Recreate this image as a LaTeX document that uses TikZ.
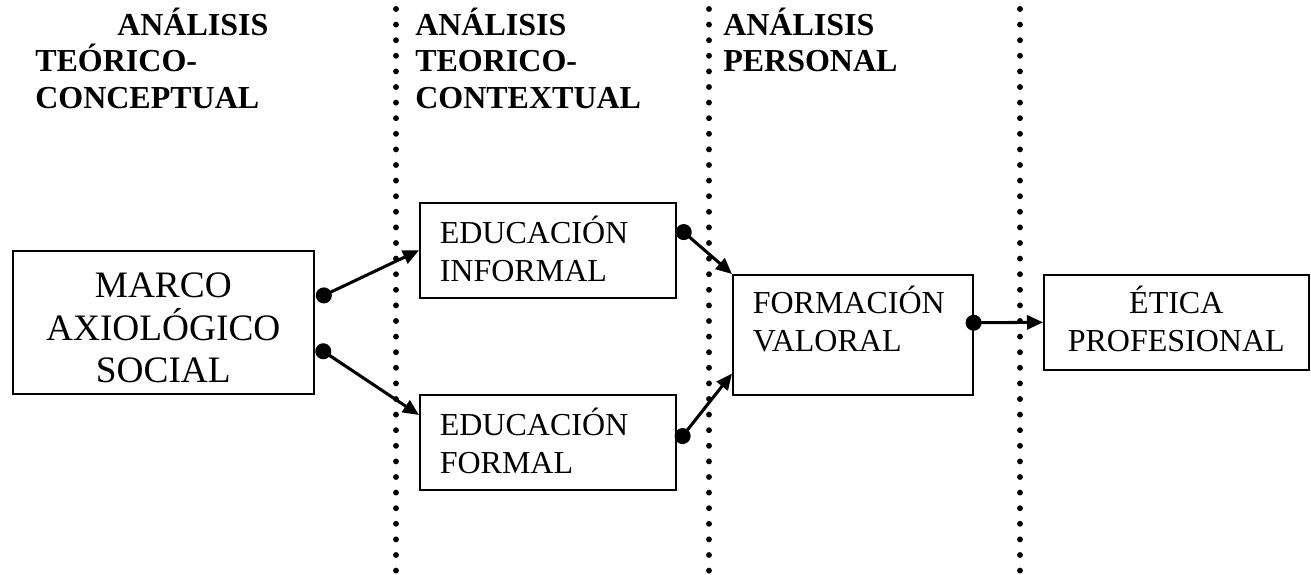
\documentclass[tikz,border=0pt]{standalone}
\usepackage{fontspec}
\setmainfont{Liberation Serif}
\usetikzlibrary{arrows.meta}
\newcommand\boxtxt[5]{\parbox[b][#2][t]{#1}{#4\rule{0pt}{#3}#5\par}}
\tikzset{
  box/.style={draw, line width=1.2pt, inner sep=0pt, anchor=north west},
  conn/.style={line width=2.3pt, {Circle[length=12pt]}-{Triangle[length=12pt,width=10.5pt]}},
  sepline/.style={line width=4.4pt, line cap=round, dash pattern=on 0pt off 11.7pt},
  head/.style={anchor=base west, inner sep=0pt, font=\bfseries\fontsize{24}{27.5}\selectfont}
}
\begin{document}
\begin{tikzpicture}[x=0.75pt,y=-0.75pt]
\useasboundingbox (0,0) rectangle (1311,575);
% column separators
\draw[sepline] (396,9) -- (396,572);
\draw[sepline] (709,9) -- (709,572);
\draw[sepline] (1020,9) -- (1020,572);
% headers
\node[head] (h1) at (35,35) {\parbox[t]{220pt}{\raggedright\hspace*{61.5pt}ANÁLISIS\\TEÓRICO-\\CONCEPTUAL}};
\node[head] (h2) at (415,35) {\parbox[t]{220pt}{\raggedright ANÁLISIS\\TEORICO-\\CONTEXTUAL}};
\node[head] (h3) at (723,35) {\parbox[t]{220pt}{\raggedright ANÁLISIS\\PERSONAL}};
% boxes
\node[box] (m) at (12,250) {\boxtxt{225.75pt}{107.25pt}{35.25pt}{\centering\fontsize{28}{31.9}\selectfont}{MARCO\\AXIOLÓGICO\\SOCIAL}};
\node[box] (ei) at (419,202) {\boxtxt{192pt}{71.25pt}{30.75pt}{\raggedright\leftskip=15pt\fontsize{24}{28.1}\selectfont}{EDUCACIÓN\\INFORMAL}};
\node[box] (ef) at (419,394) {\boxtxt{192pt}{71.25pt}{30.75pt}{\raggedright\leftskip=15pt\fontsize{24}{28.1}\selectfont}{EDUCACIÓN\\FORMAL}};
\node[box] (fv) at (732,274) {\boxtxt{180pt}{90pt}{29.25pt}{\raggedright\leftskip=15pt\fontsize{24}{28.1}\selectfont}{FORMACIÓN\\VALORAL}};
\node[box] (et) at (1043,274) {\boxtxt{198.75pt}{71.25pt}{29.25pt}{\centering\fontsize{24}{28.1}\selectfont}{ÉTICA\\PROFESIONAL}};
% connectors
\draw[conn] ([xshift=1.5pt,yshift=17.6pt]m.east) -- (ei.west);
\draw[conn] ([xshift=1.5pt,yshift=-18.4pt]m.east) -- ([yshift=-15.75pt]ef.north west);
\draw[conn] ([xshift=0.8pt,yshift=17.6pt]ei.east) -- (fv.north west);
\draw[conn] ([xshift=0.8pt]ef.east) -- ([yshift=16.5pt]fv.south west);
\draw[conn] ([xshift=-6pt,yshift=9pt]fv.east) -- (et.west);
\end{tikzpicture}
\end{document}
